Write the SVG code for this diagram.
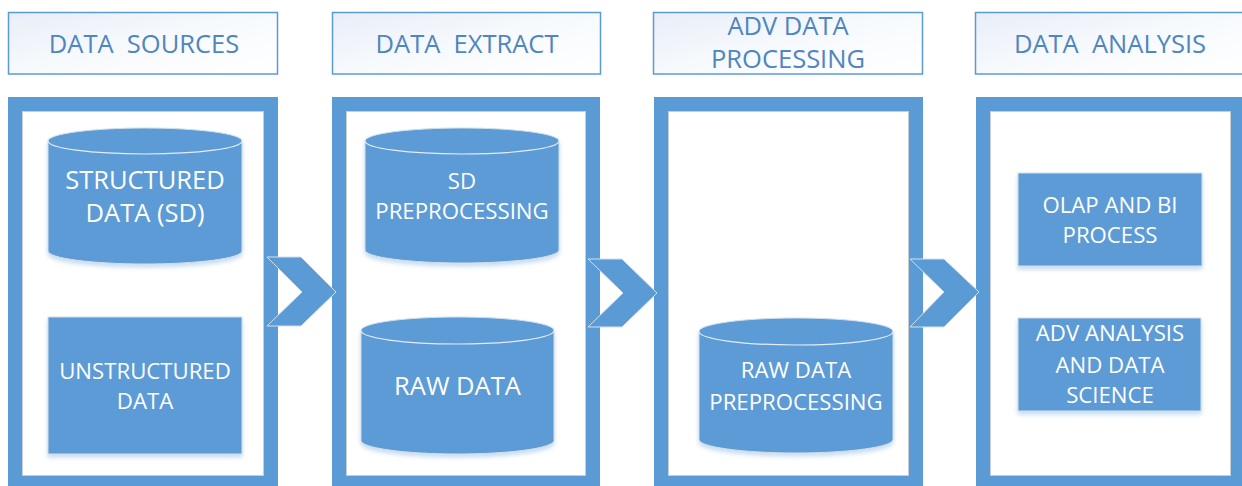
<svg xmlns="http://www.w3.org/2000/svg" width="1242" height="486" viewBox="0 0 1242 486">
<defs>
<linearGradient id="hdrGrad" x1="0" y1="0" x2="1" y2="1">
<stop offset="0" stop-color="#E8EEF8"/>
<stop offset="0.5" stop-color="#F7FAFD"/>
<stop offset="1" stop-color="#FFFFFF"/>
</linearGradient>
<filter id="shadow" x="-10%" y="-10%" width="120%" height="130%">
<feDropShadow dx="0" dy="3" stdDeviation="2" flood-color="#5B9BD5" flood-opacity="0.35"/>
</filter>
</defs>
<style>
.hdr { fill: url(#hdrGrad); stroke: #5B9BD5; stroke-width: 1.5; }
.htxt { font-family: "Open Sans", "Noto Sans", sans-serif; font-size: 25.5px; fill: #4F86C0; text-anchor: middle; }
.frame { fill: #FFFFFF; stroke: #5B9BD5; stroke-width: 14; }
.frameEdge { fill: none; stroke: #C8CDD3; stroke-width: 1; }
.shape { fill: #5B9BD5; stroke: #D5DEE8; stroke-width: 1; filter: url(#shadow); }
.seam { fill: none; stroke: #E4ECF5; stroke-width: 1.2; }
.chev { fill: #5B9BD5; stroke: #D5DEE8; stroke-width: 1; }
.ntxt { font-family: "Open Sans", "Noto Sans", sans-serif; font-size: 22.2px; fill: #FFFFFF; text-anchor: middle; }
.big { font-size: 25.5px; }
</style>

<g id="header-data-sources">
<rect class="hdr" x="8.5" y="12.5" width="269" height="61.5"/>
<text class="htxt" x="144" y="53" xml:space="preserve">DATA  SOURCES</text>
</g>
<g id="header-data-extract">
<rect class="hdr" x="332.5" y="12.5" width="268" height="61.5"/>
<text class="htxt" x="467" y="53" xml:space="preserve">DATA  EXTRACT</text>
</g>
<g id="header-adv-data-processing">
<rect class="hdr" x="653.5" y="12.5" width="269" height="61.5"/>
<text class="htxt" x="788" y="35">ADV DATA</text>
<text class="htxt" x="788" y="68">PROCESSING</text>
</g>
<g id="header-data-analysis">
<rect class="hdr" x="975.5" y="12.5" width="272" height="61.5"/>
<text class="htxt" x="1110" y="53" xml:space="preserve">DATA  ANALYSIS</text>
</g>

<g id="frame-data-sources">
<rect class="frame" x="15" y="104" width="256" height="379"/>
<rect class="frameEdge" x="22.5" y="111.5" width="241" height="364"/>
</g>
<g id="frame-data-extract">
<rect class="frame" x="339" y="104" width="254" height="379"/>
<rect class="frameEdge" x="346.5" y="111.5" width="239" height="364"/>
</g>
<g id="frame-adv-data-processing">
<rect class="frame" x="661" y="104" width="255" height="379"/>
<rect class="frameEdge" x="668.5" y="111.5" width="240" height="364"/>
</g>
<g id="frame-data-analysis">
<rect class="frame" x="983" y="104" width="255" height="379"/>
<rect class="frameEdge" x="990.5" y="111.5" width="240" height="364"/>
</g>

<g id="connectors">
<polygon class="chev" points="267,257 301,257 336,292 301,326 267,326 302,292"/>
<polygon class="chev" points="588,259 622,259 657,293 622,327 588,327 623,293"/>
<polygon class="chev" points="910,259 944,259 979,292 944,327 910,327 944,292"/>
</g>

<g id="node-structured-data">
<path class="shape" d="M48,141 A97,13 0 0 1 242,141 V251 A97,13 0 0 1 48,251 Z"/>
<path class="seam" d="M48,141 A97,13 0 0 0 242,141"/>
<text class="ntxt big" x="145" y="189">STRUCTURED</text>
<text class="ntxt big" x="145" y="222">DATA (SD)</text>
</g>

<g id="node-unstructured-data">
<rect class="shape" x="48" y="317" width="194" height="137"/>
<text class="ntxt" x="145" y="379">UNSTRUCTURED</text>
<text class="ntxt" x="145" y="409">DATA</text>
</g>

<g id="node-sd-preprocessing">
<path class="shape" d="M365,141 A97,13 0 0 1 559,141 V250 A97,13 0 0 1 365,250 Z"/>
<path class="seam" d="M365,141 A97,13 0 0 0 559,141"/>
<text class="ntxt" x="462" y="189">SD</text>
<text class="ntxt" x="462" y="219">PREPROCESSING</text>
</g>

<g id="node-raw-data">
<path class="shape" d="M361,330.5 A96.5,13.5 0 0 1 554,330.5 V440.5 A96.5,13.5 0 0 1 361,440.5 Z"/>
<path class="seam" d="M361,330.5 A96.5,13.5 0 0 0 554,330.5"/>
<text class="ntxt big" x="457.5" y="395">RAW DATA</text>
</g>

<g id="node-raw-data-preprocessing">
<path class="shape" d="M699,331.5 A97,13.5 0 0 1 893,331.5 V439.5 A97,13.5 0 0 1 699,439.5 Z"/>
<path class="seam" d="M699,331.5 A97,13.5 0 0 0 893,331.5"/>
<text class="ntxt" x="796" y="378">RAW DATA</text>
<text class="ntxt" x="796" y="410">PREPROCESSING</text>
</g>

<g id="node-olap-bi">
<rect class="shape" x="1018" y="173" width="184" height="93"/>
<text class="ntxt" x="1110" y="213">OLAP AND BI</text>
<text class="ntxt" x="1110" y="243">PROCESS</text>
</g>

<g id="node-adv-analysis">
<rect class="shape" x="1018" y="318" width="183" height="93"/>
<text class="ntxt" x="1110" y="341">ADV ANALYSIS</text>
<text class="ntxt" x="1110" y="373">AND DATA</text>
<text class="ntxt" x="1110" y="403">SCIENCE</text>
</g>
</svg>
